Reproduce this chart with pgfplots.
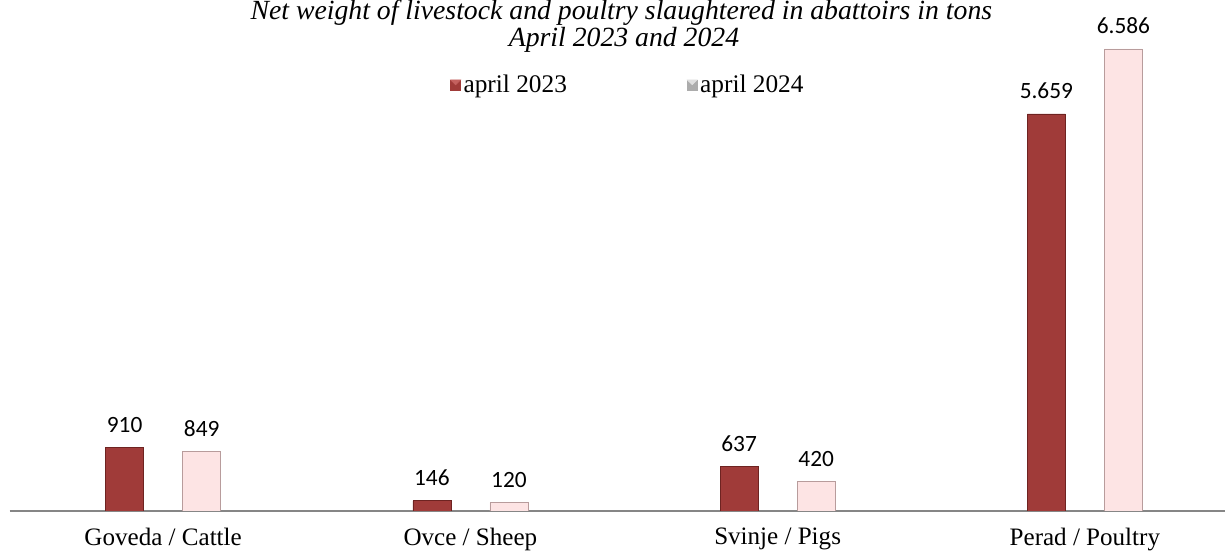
\documentclass[border=0pt]{standalone}
\usepackage{fontspec}
\setmainfont{Liberation Serif}
\newfontfamily\carlito{Carlito}
\usepackage{pgfplots}
\pgfplotsset{compat=1.18}
\definecolor{redbar}{HTML}{A03B39}
\definecolor{redtop}{HTML}{C4615F}
\definecolor{rededge}{HTML}{6E2321}
\definecolor{pinkbar}{HTML}{FDE4E4}
\definecolor{pinkedge}{HTML}{B89C9C}
\definecolor{axisgray}{HTML}{868686}
\begin{document}
\begin{tikzpicture}[x=1pt,y=1pt]
\path[use as bounding box] (0,0) rectangle (918.75,414);
\begin{axis}[
  at={(7.125pt,30.75pt)}, anchor=south west,
  scale only axis, width=921.75pt, height=383.25pt,
  xmin=-0.5, xmax=3.5, ymin=0, ymax=7284,
  axis x line*=bottom, axis y line=none,
  x axis line style={draw=axisgray, line width=1.1pt, -},
  xtick={0,1,2,3},
  xticklabels={Goveda / Cattle, Ovce / Sheep, Svinje / Pigs, Perad / Poultry},
  major tick length=0pt,
  xticklabel style={font=\fontsize{18.8}{20}\selectfont, yshift=-9.5pt},
  ybar, bar width=28.5pt,
  every node near coord/.append style={font=\carlito\fontsize{17.5}{20}\selectfont, anchor=south, inner sep=0pt, yshift=11pt},
  legend columns=2,
  legend style={draw=none, fill=none, at={(0.5035,0.834)}, anchor=center,
    font=\fontsize{19}{20}\selectfont,
    /tikz/every even column/.append style={column sep=88pt}},
  /pgf/number format/1000 sep={.},
  /pgf/number format/assume math mode=true,
]
\addplot[fill=redbar, draw=rededge, line width=0.4pt, bar shift=-28.9pt,
  legend image code/.code={
     \fill[redbar] (-4pt,-3.8pt) rectangle (3.5pt,3.7pt);
     \fill[redtop] (-4pt,3.7pt) -- (3.5pt,3.7pt) -- (-0.25pt,0pt) -- cycle;}]
  coordinates {(0,910) (1,146) (2,637) (3,5659)};
\addplot[fill=pinkbar, draw=pinkedge, line width=0.4pt, bar shift=28.9pt,
  legend image code/.code={
     \fill[gray!65] (-4pt,-3.8pt) rectangle (3.5pt,3.7pt);
     \fill[gray!25] (-4pt,3.7pt) -- (3.5pt,3.7pt) -- (-0.25pt,0pt) -- cycle;}]
  coordinates {(0,849) (1,120) (2,420) (3,6586)};
\legend{april 2023, april 2024}
\addplot[draw=none, fill=none, bar shift=-28.9pt, nodes near coords, forget plot]
  coordinates {(0,910) (1,146) (2,637) (3,5659)};
\addplot[draw=none, fill=none, bar shift=28.9pt, nodes near coords, forget plot]
  coordinates {(0,849) (1,120) (2,420) (3,6586)};
\end{axis}
\node[font=\itshape\fontsize{20.8}{22}\selectfont, anchor=base] at (466,399) {Net weight of livestock and poultry slaughtered in abattoirs in tons};
\node[font=\itshape\fontsize{20.8}{22}\selectfont, anchor=base] at (468,379) {April 2023 and 2024};
\end{tikzpicture}
\end{document}
